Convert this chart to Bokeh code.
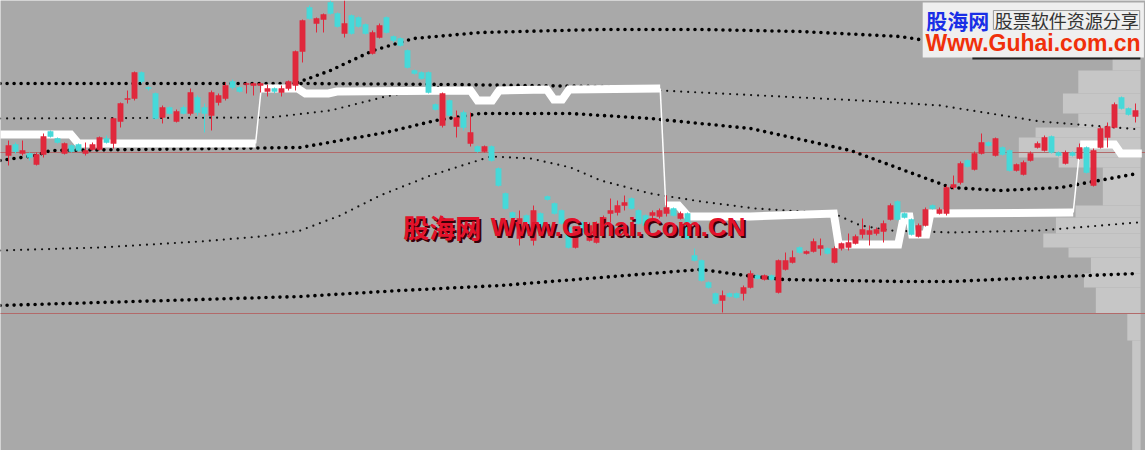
from bokeh.plotting import figure
from bokeh.models import Range1d, ColumnDataSource
from bokeh.embed import file_html
from bokeh.resources import INLINE
from bokeh.core.properties import value

# ---------------- data ----------------
opens = [34.5, 35.6, 34.7, 34.7, 33.6, 34.6, 36.9, 36.2, 34.7, 35.5,
         35.6, 34.7, 35.1, 35.1, 36.2, 35.7, 37.9, 40.1, 40.2, 42.8,
         41.3, 40.7, 38.3, 39.3, 37.9, 39.3, 38.7, 40.3, 39.3, 38.5,
         39.8, 40.2, 41.9, 41.3, 41.6, 41.5, 41.5, 40.9, 41.2, 40.8,
         41.2, 41.5, 44.9, 49.3, 47.7, 48.1, 49.8, 48.7, 46.7, 48.5,
         48.3, 47.6, 44.7, 46.3, 48.3, 46.4, 46.2, 45.0, 43.0, 42.8,
         42.8, 39.6, 37.5, 40.0, 37.4, 38.8, 35.7, 35.4, 34.9, 35.4,
         33.2, 30.7, 28.8, 26.2, 28.5, 26.0, 28.7, 30.4, 29.7, 29.0,
         27.3, 25.3, 27.8, 26.0, 25.8, 27.7, 28.7, 28.8, 29.5, 30.2,
         29.0, 28.5, 28.5, 28.4, 28.7, 29.2, 28.2, 28.7, 24.5, 24.0,
         21.8, 20.7, 20.0, 20.7, 20.7, 20.7, 21.3, 22.5, 22.1, 22.5,
         20.8, 23.1, 23.8, 25.3, 24.7, 24.9, 25.2, 25.2, 23.8, 25.2,
         25.3, 25.7, 26.6, 26.6, 26.7, 26.9, 28.1, 29.9, 28.7, 28.1,
         26.4, 27.5, 29.5, 28.7, 28.7, 31.3, 31.8, 34.0, 33.1, 34.7,
         35.8, 34.5, 35.3, 35.0, 33.0, 32.6, 34.0, 35.3, 35.0, 36.4,
         34.8, 33.7, 34.8, 34.2, 35.3, 31.5, 35.3, 36.3, 37.3, 40.3,
         39.2, 38.4]
closes = [35.5, 34.9, 35.0, 34.3, 34.6, 36.4, 36.4, 35.8, 35.7, 34.9,
          35.0, 35.0, 35.6, 36.3, 35.8, 38.2, 39.7, 40.2, 42.8, 41.9,
          41.2, 38.2, 39.3, 38.7, 38.9, 38.7, 40.8, 38.8, 38.7, 40.8,
          40.5, 41.5, 41.3, 40.9, 41.7, 41.7, 41.7, 41.2, 40.9, 41.2,
          41.9, 44.9, 48.0, 48.2, 48.2, 48.6, 48.7, 47.4, 47.7, 46.7,
          47.4, 46.7, 46.8, 47.5, 46.8, 46.0, 45.5, 43.3, 42.7, 42.2,
          40.8, 39.1, 40.7, 38.5, 38.3, 37.3, 36.8, 34.9, 35.4, 34.0,
          31.5, 29.2, 28.3, 28.2, 27.0, 29.0, 27.3, 30.1, 28.7, 27.7,
          25.3, 27.3, 26.8, 27.5, 27.7, 28.3, 29.0, 29.5, 29.8, 29.2,
          27.7, 27.5, 28.8, 29.0, 29.3, 28.5, 28.7, 26.2, 24.0, 22.0,
          21.3, 19.7, 20.5, 20.4, 20.3, 21.3, 22.7, 22.2, 22.5, 22.1,
          24.0, 24.0, 24.3, 24.8, 24.9, 25.9, 25.5, 24.7, 25.2, 25.7,
          25.8, 26.4, 27.1, 27.0, 27.1, 27.7, 29.5, 28.1, 28.3, 26.6,
          27.5, 29.1, 29.2, 29.1, 31.3, 31.6, 33.7, 33.4, 34.7, 35.8,
          35.5, 36.2, 34.6, 33.0, 33.6, 33.8, 34.7, 35.7, 36.3, 34.8,
          34.5, 34.8, 34.5, 35.3, 32.8, 35.0, 37.2, 37.4, 39.6, 39.2,
          38.6, 39.0]
highs = [36.0, 35.8, 36.0, 34.8, 34.8, 36.7, 37.0, 36.3, 35.8, 35.6,
         35.7, 35.8, 35.8, 36.4, 36.5, 38.3, 39.8, 41.0, 42.9, 42.9,
         41.4, 40.8, 39.5, 39.4, 39.1, 39.5, 41.2, 40.5, 39.7, 41.0,
         40.7, 41.8, 42.1, 41.4, 41.8, 41.8, 41.8, 41.6, 41.3, 41.5,
         42.0, 45.0, 48.1, 49.5, 48.3, 48.7, 50.0, 48.8, 50.0, 48.6,
         48.4, 47.7, 47.0, 47.7, 48.4, 46.5, 46.3, 45.1, 43.1, 42.9,
         42.9, 39.7, 40.8, 40.1, 39.0, 39.0, 38.8, 35.5, 35.5, 35.5,
         33.3, 30.8, 28.9, 29.0, 28.6, 29.5, 28.8, 30.5, 29.8, 29.1,
         27.4, 27.4, 27.9, 27.8, 27.9, 28.5, 30.2, 30.0, 30.5, 30.3,
         29.1, 28.6, 29.0, 29.2, 30.5, 29.3, 28.9, 28.8, 25.2, 24.1,
         21.9, 20.8, 21.0, 20.8, 20.8, 21.5, 23.0, 22.6, 22.6, 22.6,
         24.1, 24.8, 25.0, 25.4, 25.0, 26.2, 26.2, 25.3, 25.4, 25.8,
         26.7, 26.6, 28.2, 27.5, 27.3, 28.0, 29.7, 30.0, 28.8, 28.2,
         27.7, 29.3, 29.6, 29.3, 31.5, 32.5, 33.9, 34.1, 34.9, 36.7,
         35.9, 36.3, 35.4, 35.1, 33.7, 34.0, 34.9, 35.9, 36.5, 36.5,
         34.9, 35.0, 34.9, 35.7, 35.4, 35.2, 37.4, 37.8, 39.8, 40.4,
         39.3, 39.7]
lows = [33.5, 34.7, 34.5, 34.0, 33.5, 34.3, 36.3, 35.7, 34.6, 34.8,
        34.9, 34.5, 35.0, 35.0, 35.7, 35.2, 37.3, 39.7, 40.0, 41.7,
        41.0, 38.1, 37.7, 38.6, 37.8, 38.6, 38.5, 38.5, 36.8, 37.0,
        39.5, 40.0, 41.1, 40.8, 40.7, 40.5, 40.8, 40.4, 40.7, 40.4,
        41.0, 41.0, 43.8, 48.1, 46.8, 46.8, 48.6, 47.3, 46.3, 46.6,
        47.3, 46.6, 44.6, 46.2, 46.7, 45.8, 45.4, 43.2, 42.6, 42.1,
        40.7, 39.0, 37.3, 38.4, 36.3, 37.0, 35.4, 34.8, 34.8, 33.9,
        31.4, 29.1, 28.2, 25.5, 26.9, 25.5, 27.2, 30.0, 28.6, 27.6,
        25.2, 25.2, 26.7, 25.9, 25.7, 27.5, 27.8, 28.5, 29.0, 29.1,
        27.6, 27.4, 28.2, 28.2, 28.4, 28.4, 28.1, 26.1, 23.9, 21.9,
        21.2, 19.6, 18.8, 20.3, 20.2, 20.0, 21.2, 22.1, 22.0, 22.0,
        20.7, 23.0, 23.7, 24.7, 24.6, 24.8, 24.5, 24.6, 23.7, 25.0,
        25.0, 25.6, 26.2, 25.5, 26.5, 25.8, 28.0, 28.0, 28.2, 26.5,
        26.3, 27.4, 29.1, 28.6, 28.5, 31.1, 31.6, 33.3, 33.0, 34.6,
        35.4, 34.4, 34.5, 32.9, 32.9, 32.5, 33.9, 35.2, 34.9, 34.7,
        34.4, 33.6, 34.4, 34.1, 32.7, 31.4, 35.2, 35.3, 37.2, 39.1,
        38.5, 37.8]

# indicator lines (bar index, price)
lineA_x = [-1.2, 41.7, 63.1, 84.6, 93.1]
lineA_y = [41.7, 41.7, 41.6, 41.4, 41.2]
lineG_x = [93.1, 107.4, 121.7, 133.1, 147.4, 161.7]
lineG_y = [41.0, 40.5, 40.0, 39.5, 37.9, 37.1]
lineC_x = [-1.2, 37.4, 46.0, 53.9, 61.7]
lineC_y = [38.2, 38.3, 39.0, 40.4, 41.4]
lineB_x = [41.3, 46.0, 52.1, 57.9, 67.4, 84.6, 98.9, 113.1, 127.4, 131.0]
lineB_y = [41.8, 43.0, 45.0, 46.2, 46.8, 47.1, 47.1, 46.9, 46.4, 46.0]
lineD_x = [-1.2, 3.9, 6.0, 41.7, 53.9, 61.0, 67.4, 80.3, 91.7, 106.0, 120.3, 134.6, 141.7, 150.3, 161.3]
lineD_y = [34.0, 34.5, 35.0, 35.3, 36.8, 38.0, 38.7, 38.7, 38.2, 37.2, 35.0, 31.3, 31.0, 31.3, 32.7]
lineE_x = [-1.2, 13.1, 27.4, 36.0, 41.7, 47.4, 53.1, 60.3, 68.9, 74.6, 80.3, 84.6, 91.7, 98.9,
           106.7, 117.9, 121.7, 126.0, 134.6, 147.4, 161.3]
lineE_y = [25.0, 25.3, 25.9, 26.4, 27.0, 28.5, 30.5, 32.5, 34.4, 34.2, 33.3, 32.0, 30.7, 29.9,
           29.2, 28.7, 27.5, 27.0, 26.8, 27.0, 27.8]
lineF_x = [-1.2, 13.1, 27.4, 41.7, 56.0, 70.3, 84.6, 98.9, 105.3, 110.7, 127.4, 134.6, 147.4, 161.3]
lineF_y = [19.5, 19.8, 20.1, 20.4, 21.0, 21.5, 22.3, 23.1, 22.5, 22.1, 21.9, 21.9, 22.3, 22.7]

# white stop band sections
band_x = [[-1.2, 8.9, 10.0, 35.3],
          [36.1, 41.3, 42.4, 45.7, 46.9, 66.0, 67.0, 69.1, 70.1, 76.9, 77.9, 79.1, 80.1, 93.1],
          [93.9, 95.7, 97.1, 106.0, 117.9, 118.6, 127.1, 127.9, 128.7, 129.1, 131.1, 131.7, 152.1],
          [153.1, 158.0, 158.9, 161.9]]
band_y = [[36.6, 36.6, 35.7, 35.7],
          [41.2, 41.2, 40.7, 40.7, 40.9, 41.0, 40.0, 40.0, 41.0, 41.1, 40.1, 40.1, 41.1, 41.2],
          [29.5, 29.5, 28.4, 28.4, 28.7, 25.6, 25.6, 28.4, 28.4, 26.6, 26.6, 28.7, 28.8],
          [35.6, 35.6, 34.7, 34.7]]

# volume profile (price bins, relative volume in bar widths)
prof_top = [44.2, 43.0, 40.7, 38.7, 37.3, 36.3, 34.3, 33.3, 29.5, 28.3, 26.7, 25.3, 24.3, 22.7, 21.3, 18.7, 16.0]
prof_bot = [43.0, 40.7, 38.7, 37.3, 36.3, 34.3, 33.3, 29.5, 28.3, 26.7, 25.3, 24.3, 22.7, 21.3, 18.7, 16.0, 5.0]
prof_vol = [4.0, 8.9, 11.1, 8.9, 15.0, 17.4, 11.7, 5.4, 9.3, 12.1, 13.9, 10.3, 7.1, 8.1, 6.4, 1.9, 1.2]

ref_levels = [34.8, 18.7]

# ---------------- figure ----------------
X_START = -8 / 7.0
X_END = 1137 / 7.0
p = figure(width=1145, height=450, output_backend="svg", toolbar_location=None,
           x_range=Range1d(X_START, X_END), y_range=Range1d(5.0, 50.0), min_border=0)
p.axis.visible = False
p.grid.visible = False
p.outline_line_color = None
p.background_fill_color = "#A9A9A9"
p.border_fill_color = "#A9A9A9"

# volume profile
p.quad(left=[X_END - 0.7 - v for v in prof_vol], right=[X_END - 0.7] * len(prof_vol),
       top=prof_top, bottom=prof_bot, fill_color="#C6C6C6", line_color=None)

# reference levels
for lv in ref_levels:
    p.line([X_START - 1, X_END + 1], [lv, lv], line_color="#B26A6A", line_width=1)

# dotted indicator lines
thick = dict(line_color="black", line_width=3.6, line_dash="0 7", line_cap="round")
thin = dict(line_color="#111111", line_width=2.2, line_dash="0 7", line_cap="round")
p.line(lineA_x, lineA_y, **thick)
p.line(lineB_x, lineB_y, **thick)
p.line(lineD_x, lineD_y, **thick)
p.line(lineF_x, lineF_y, **thick)
p.line(lineC_x, lineC_y, **thin)
p.line(lineG_x, lineG_y, **thin)
p.line(lineE_x, lineE_y, **thin)

# white band
p.multi_line(band_x, band_y, line_color="white", line_width=8, line_join="miter")
jx = [[band_x[k][-1], band_x[k + 1][0]] for k in range(len(band_x) - 1)]
jy = [[band_y[k][-1], band_y[k + 1][0]] for k in range(len(band_y) - 1)]
p.multi_line(jx, jy, line_color="white", line_width=1.5)

# candles
idx = list(range(len(opens)))
cols = ["#E0283C" if c >= o else "#46D9D9" for o, c in zip(opens, closes)]
src = ColumnDataSource(dict(x=idx, o=opens, c=closes, h=highs, l=lows,
                            top=[max(o, c) for o, c in zip(opens, closes)],
                            bot=[min(o, c) for o, c in zip(opens, closes)],
                            col=cols))
p.segment(x0="x", y0="h", x1="x", y1="l", line_color="col", line_width=1, source=src)
p.vbar(x="x", top="top", bottom="bot", width=0.76, fill_color="col", line_color="col",
       line_width=0.5, source=src)

# watermark
for dx, dy, col in [(2, 2, "#3A0008"), (0, 0, "#E3122B")]:
    p.text(x=[56.4], y=[27.4], text=["股海网"], text_color=col,
           text_font=value("Noto Sans CJK SC"), text_font_style="bold",
           text_font_size="26px", text_baseline="middle", x_offset=dx, y_offset=dy)
    p.text(x=[68.9], y=[27.4], text=["Www.Guhai.Com.CN"], text_color=col,
           text_font=value("Liberation Sans"), text_font_style="bold",
           text_font_size="26px", text_baseline="middle", x_offset=dx, y_offset=dy)

# logo box
p.quad(left=[130.6], right=[162.2], top=[49.8], bottom=[44.3], fill_color="#EFEFEF", line_color=None)
p.quad(left=[137.7], right=[161.7], top=[44.3], bottom=[44.1], fill_color="#202020", line_color=None)
p.quad(left=[140.7], right=[161.6], top=[49.0], bottom=[47.1], fill_color=None,
       line_color="#9A9A9A", line_width=1)
p.text(x=[131.1], y=[48.1], text=["股海网"], text_color="#1A2FE6",
       text_font=value("Noto Sans CJK SC"), text_font_style="bold",
       text_font_size="21px", text_baseline="middle")
p.text(x=[140.9], y=[48.05], text=["股票软件资源分享"], text_color="#333333",
       text_font=value("Noto Sans CJK SC"), text_font_size="18px", text_baseline="middle")
p.text(x=[131.0], y=[45.8], text=["Www.Guhai.com.cn"], text_color="#F0300A",
       text_font=value("Liberation Sans"), text_font_style="bold",
       text_font_size="23px", text_baseline="middle")

open("out.html", "w").write(file_html(p, INLINE))
